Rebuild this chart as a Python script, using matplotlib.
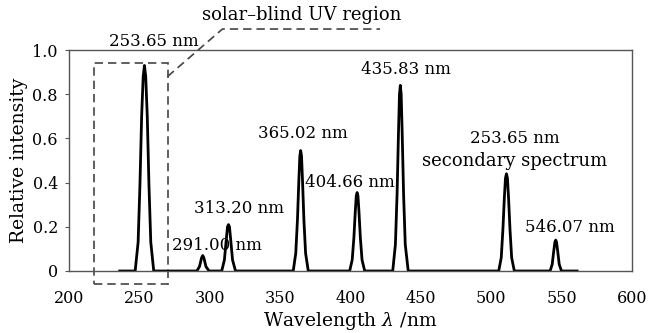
import numpy as np
import matplotlib.pyplot as plt
from matplotlib.patches import Rectangle

plt.rcParams['font.family'] = ['DejaVu Serif']
plt.rcParams['mathtext.fontset'] = 'dejavuserif'

# Spektrum lest av figuren (bolgelengde i nm, relativ intensitet)
wavelength = [236.0,
              247.0, 249.1, 250.4, 251.6, 252.7, 253.6, 254.5, 255.6, 256.8, 258.1, 260.2,
              290.8, 292.7, 294.2, 295.0, 295.8, 297.3, 299.5,
              308.5, 310.4, 311.7, 312.6, 313.3, 314.0, 314.9, 316.2, 318.3,
              359.3, 361.1, 362.3, 363.3, 364.0, 364.6, 365.2, 365.9, 366.9, 368.1, 370.0,
              399.4, 401.2, 402.4, 403.4, 404.1, 404.7, 405.3, 406.0, 407.0, 408.2, 410.1,
              430.0, 431.9, 433.1, 434.1, 434.8, 435.4, 436.0, 436.7, 437.7, 438.9, 441.0,
              505.3, 507.1, 508.3, 509.3, 510.1, 510.8, 511.5, 512.3, 513.3, 514.5, 516.4,
              541.8, 543.3, 544.4, 545.2, 545.8, 546.4, 547.2, 548.3, 549.9,
              561.0]
intensity = [0.0,
             0.0, 0.13, 0.39, 0.70, 0.88, 0.93, 0.88, 0.70, 0.39, 0.13, 0.0,
             0.0, 0.02, 0.06, 0.07, 0.06, 0.02, 0.0,
             0.0, 0.05, 0.14, 0.20, 0.21, 0.20, 0.14, 0.05, 0.0,
             0.0, 0.08, 0.23, 0.41, 0.52, 0.545, 0.52, 0.41, 0.23, 0.08, 0.0,
             0.0, 0.05, 0.15, 0.27, 0.34, 0.355, 0.34, 0.27, 0.15, 0.05, 0.0,
             0.0, 0.12, 0.35, 0.63, 0.80, 0.84, 0.80, 0.63, 0.35, 0.12, 0.0,
             0.0, 0.06, 0.19, 0.33, 0.42, 0.44, 0.42, 0.33, 0.19, 0.06, 0.0,
             0.0, 0.03, 0.09, 0.13, 0.14, 0.13, 0.09, 0.03, 0.0,
             0.0]

# Etiketter: tekst, x, y, skriftstorrelse
labels = ['253.65 nm', '291.00 nm', '313.20 nm', '365.02 nm', '404.66 nm',
          '435.83 nm', '253.65 nm', 'secondary spectrum', '546.07 nm']
label_x = [260.6, 304.8, 321.0, 366.0, 399.5, 439.5, 516.6, 516.6, 556.0]
label_y = [1.04, 0.115, 0.285, 0.62, 0.40, 0.91, 0.60, 0.50, 0.195]
label_size = [12, 12, 12, 12, 12, 12, 12, 13, 12]

xticks = [200, 250, 300, 350, 400, 450, 500, 550, 600]
yticks = [0, 0.2, 0.4, 0.6, 0.8, 1.0]
yticklabels = ['0', '0.2', '0.4', '0.6', '0.8', '1.0']

fig, ax = plt.subplots(figsize=(6.48, 3.33), dpi=100)
fig.subplots_adjust(left=0.1065, right=0.9753, top=0.8498, bottom=0.1862)

ax.plot(wavelength, intensity, color='black', lw=2.0, solid_joinstyle='round')

for txt, x, y, fs in zip(labels, label_x, label_y, label_size):
    ax.text(x, y, txt, ha='center', va='center', fontsize=fs)

# Stiplet boks rundt solblind UV-omraadet
box = Rectangle((218, -0.06), 52, 1.0, fill=False, ls=(0, (5, 3)),
                lw=1.2, edgecolor='#444444', clip_on=False)
ax.add_patch(box)
ax.plot([270, 309, 421], [0.88, 1.095, 1.095], ls=(0, (5, 3)), lw=1.2,
        color='#444444', clip_on=False)
ax.text(365.5, 1.16, 'solar\u2013blind UV region', ha='center', va='center',
        fontsize=13)

ax.set_xlim(200, 600)
ax.set_ylim(0, 1.0)
ax.set_xticks(xticks)
ax.set_yticks(yticks)
ax.set_yticklabels(yticklabels)
ax.tick_params(axis='x', length=0, pad=14, labelsize=11.5)
ax.tick_params(axis='y', length=3, pad=5, labelsize=11.5, color='#555555')
for s in ax.spines.values():
    s.set_color('#555555')
    s.set_linewidth(1.0)

ax.set_xlabel('Wavelength $\\lambda$ /nm', fontsize=13.5, labelpad=2)
ax.set_ylabel('Relative intensity', fontsize=13.5, labelpad=3)

fig.savefig('out.png', dpi=100)
